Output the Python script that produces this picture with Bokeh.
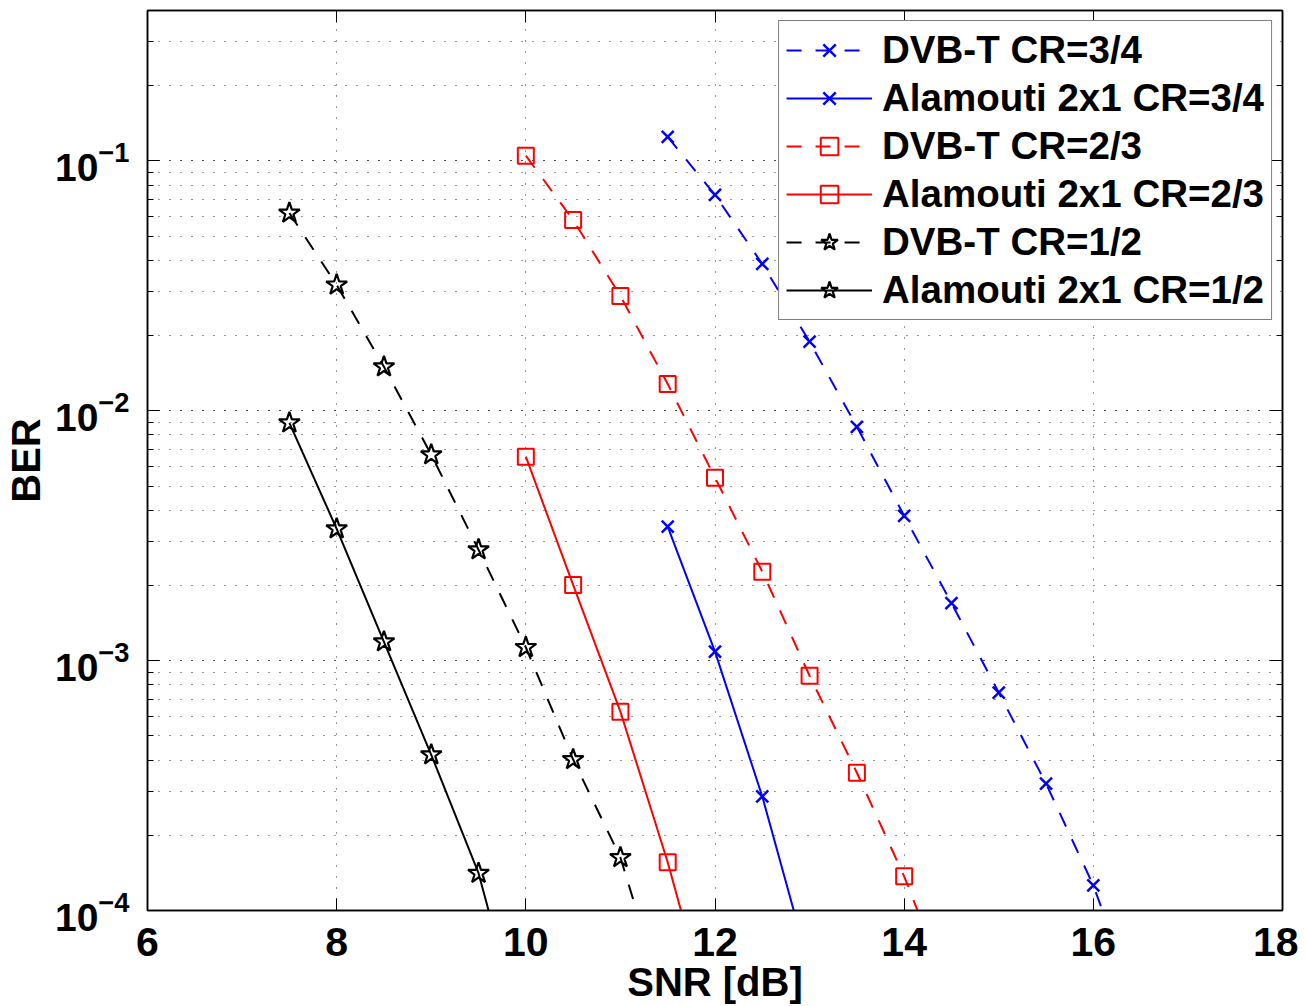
import numpy as np
from bokeh.plotting import figure
from bokeh.models import (Range1d, FixedTicker, LinearAxis, LogAxis, LogTicker, Legend,
                          CustomJSTickFormatter)
from bokeh.embed import file_html
from bokeh.resources import INLINE

# ---- data ----
snr_dvbt_34 = [11.5, 12.0, 12.5, 13.0, 13.5, 14.0, 14.5, 15.0, 15.5, 16.0, 16.5]
ber_dvbt_34 = [0.1247, 0.0731, 0.0387, 0.0189, 0.00863, 0.0038, 0.0017, 0.000745, 0.000322, 0.000126, 0.000038]

snr_ala_34 = [11.5, 12.0, 12.5, 13.0]
ber_ala_34 = [0.00344, 0.001087, 0.000286, 0.000059]

snr_dvbt_23 = [10.0, 10.5, 11.0, 11.5, 12.0, 12.5, 13.0, 13.5, 14.0, 14.5]
ber_dvbt_23 = [0.105, 0.058, 0.0288, 0.0128, 0.0054, 0.00227, 0.00087, 0.000356, 0.000137, 0.000045]

snr_ala_23 = [10.0, 10.5, 11.0, 11.5, 12.0]
ber_ala_23 = [0.00655, 0.00201, 0.000625, 0.000156, 0.000032]

snr_dvbt_12 = [7.5, 8.0, 8.5, 9.0, 9.5, 10.0, 10.5, 11.0, 11.5]
ber_dvbt_12 = [0.0619, 0.0319, 0.015, 0.00667, 0.00278, 0.00113, 0.000402, 0.000163, 0.000039]

snr_ala_12 = [7.5, 8.0, 8.5, 9.0, 9.5, 10.0]
ber_ala_12 = [0.00895, 0.00337, 0.00119, 0.00042, 0.000141, 0.000028]

x_ticks = [6, 8, 10, 12, 14, 16, 18]

DASH = "15 14"
series = [
    ("DVB-T CR=3/4", snr_dvbt_34, ber_dvbt_34, "#0000FF", DASH, "x"),
    ("Alamouti 2x1 CR=3/4", snr_ala_34, ber_ala_34, "#0000FF", "solid", "x"),
    ("DVB-T CR=2/3", snr_dvbt_23, ber_dvbt_23, "#FF0000", DASH, "square"),
    ("Alamouti 2x1 CR=2/3", snr_ala_23, ber_ala_23, "#FF0000", "solid", "square"),
    ("DVB-T CR=1/2", snr_dvbt_12, ber_dvbt_12, "#000000", DASH, "star"),
    ("Alamouti 2x1 CR=1/2", snr_ala_12, ber_ala_12, "#000000", "solid", "star"),
]

FONT = "Liberation Sans"

p = figure(width=1298, height=1006, y_axis_type="log",
           x_range=Range1d(6, 18), y_range=Range1d(1e-4, 0.4),
           output_backend="svg", toolbar_location=None,
           min_border_left=147, min_border_right=16, min_border_top=10, min_border_bottom=95)

p.outline_line_color = "black"
p.outline_line_width = 1.5

# grid
p.xgrid.ticker = FixedTicker(ticks=x_ticks)
for g in (p.xgrid, p.ygrid):
    g.grid_line_color = "#333333"
    g.grid_line_dash = "1 10"
    g.grid_line_width = 1
p.ygrid.minor_grid_line_color = "#333333"
p.ygrid.minor_grid_line_dash = "1 10"
p.ygrid.minor_grid_line_width = 1

# axes
p.xaxis.ticker = FixedTicker(ticks=x_ticks)
p.xaxis.axis_label = "SNR [dB]"
p.yaxis.axis_label = "BER"
for ax in (p.xaxis[0], p.yaxis[0]):
    ax.major_label_text_font = FONT
    ax.major_label_text_font_style = "bold"
    ax.major_label_text_color = "black"
    ax.axis_label_text_font = FONT
    ax.axis_label_text_font_style = "bold"
    ax.axis_label_text_font_size = "40px"
    ax.axis_label_text_color = "black"
    ax.major_tick_in = 12
    ax.major_tick_out = 0
    ax.minor_tick_in = 6
    ax.minor_tick_out = 0
    ax.axis_line_width = 1.5
    ax.axis_line_color = "black"
    ax.major_tick_line_color = "black"
    ax.minor_tick_line_color = "black"
p.xaxis.major_label_text_font_size = "41px"
p.yaxis.major_label_text_font_size = "39px"
p.xaxis.minor_tick_line_color = None
p.xaxis.major_label_standoff = 17
p.xaxis.axis_label_standoff = 1
p.yaxis.major_label_standoff = 18
p.yaxis.axis_label_standoff = 4

blank = CustomJSTickFormatter(code="return '';")
top_ax = LinearAxis(ticker=FixedTicker(ticks=x_ticks), formatter=blank,
                    major_tick_in=12, major_tick_out=0, minor_tick_line_color=None,
                    major_label_standoff=0, axis_line_width=1.5)
right_ax = LogAxis(ticker=LogTicker(), formatter=CustomJSTickFormatter(code="return '';"),
                   major_tick_in=12, major_tick_out=0, minor_tick_in=6, minor_tick_out=0,
                   major_label_standoff=0, axis_line_width=1.5)
p.add_layout(top_ax, "above")
p.add_layout(right_ax, "right")

marker_size = {"x": 17, "square": 16, "star": 22}
marker_width = {"x": 2.5, "square": 2, "star": 2.2}

items = []
for label, xs, ys, color, dash, marker in series:
    r1 = p.line(xs, ys, line_color=color, line_width=2, line_dash=dash)
    r2 = p.scatter(xs, ys, marker=marker, size=marker_size[marker], line_color=color,
                   line_width=marker_width[marker], fill_color=None)
    items.append((label, [r1, r2]))

legend = Legend(items=items, location="top_right")
legend.label_text_font = FONT
legend.label_text_font_size = "38.5px"
legend.label_text_font_style = "bold"
legend.label_text_color = "black"
legend.glyph_width = 86
legend.glyph_height = 44
legend.label_height = 44
legend.spacing = 4
legend.padding = 7
legend.margin = 10
legend.label_standoff = 10
legend.border_line_color = "black"
legend.border_line_width = 1.5
legend.background_fill_alpha = 1
p.add_layout(legend)

open("out.html", "w").write(file_html(p, INLINE))
